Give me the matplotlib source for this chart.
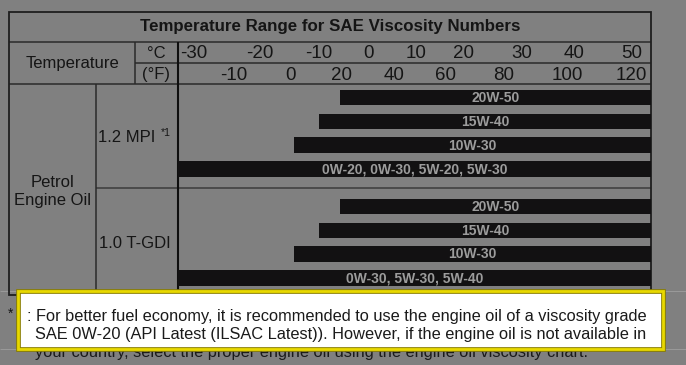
import matplotlib
matplotlib.use("Agg")
import matplotlib.pyplot as plt
from matplotlib.patches import Rectangle

plt.rcParams['font.family'] = ['Liberation Sans', 'DejaVu Sans']

# ---------------- data ----------------
title = "Temperature Range for SAE Viscosity Numbers"
celsius_labels = ["-30", "-20", "-10", "0", "10", "20", "30", "40", "50"]
fahrenheit_labels = ["-10", "0", "20", "40", "60", "80", "100", "120"]
engine_group = "Petrol\nEngine Oil"
engines = ["1.2 MPI", "1.0 T-GDI"]
grades_mpi = ["20W-50", "15W-40", "10W-30", "0W-20, 0W-30, 5W-20, 5W-30"]
grades_tgdi = ["20W-50", "15W-40", "10W-30", "0W-30, 5W-30, 5W-40"]
# lower temperature limit of each grade (deg C); None = below chart range
start_mpi = [-3.3, -7.2, -11.7, None]
start_tgdi = [-3.3, -7.2, -11.7, None]
footnote_lines = [
    ": For better fuel economy, it is recommended to use the engine oil of a viscosity grade",
    "SAE 0W-20 (API Latest (ILSAC Latest)). However, if the engine oil is not available in",
]
footnote_tail = "your country, select the proper engine oil using the engine oil viscosity chart."

# ---------------- layout ----------------
W, H = 686, 365
BG = "#808080"
LINE = "#2a2a2a"
TXT = "#151515"
XMIN, XMAX = -32.92, 53.47          # deg C at the bar area's left / right edge
celsius_px = [194, 260, 319, 368, 416, 464, 522, 574, 632]
fahr_px = [234, 291, 341, 394, 446, 504, 567, 631]
rows_mpi_y = [97.5, 121.5, 145, 169]
rows_tgdi_y = [206.5, 230.5, 254, 278]
BAR_H = 15.5

fig = plt.figure(figsize=(W / 100, H / 100), dpi=100, facecolor=BG)
ax = fig.add_axes([0, 0, 1, 1])
ax.set_xlim(0, W)
ax.set_ylim(H, 0)
ax.axis("off")
ax.set_facecolor(BG)

def hline(y, x0, x1, c=LINE, lw=1.1, z=3):
    ax.plot([x0, x1], [y, y], color=c, lw=lw, zorder=z, solid_capstyle="butt")

def vline(x, y0, y1, c=LINE, lw=1.1, z=3):
    ax.plot([x, x], [y0, y1], color=c, lw=lw, zorder=z, solid_capstyle="butt")

# faint page lines
hline(291, 0, W, c="#9a9a9a", lw=0.7, z=1)
hline(349, 0, W, c="#9a9a9a", lw=0.7, z=1)

# table grid
L, R, T, B = 9, 651, 12, 295
ax.add_patch(Rectangle((L, T), R - L, B - T, fill=False, ec="#1e1e1e", lw=1.3, zorder=4))
hline(42, L, R)
hline(63, 135, R)
hline(84, L, R)
hline(188, 96, R, c="#4a4a4a", lw=1.4)
vline(135, 42, 84)
vline(96, 84, B)
vline(178, 42, B, c="#0e0e0e", lw=1.5, z=5)

# header texts
ax.text((L + R) / 2, 27, title, ha="center", va="center", fontsize=12.2,
        fontweight="bold", color=TXT, zorder=6)
ax.text(72, 63.5, "Temperature", ha="center", va="center", fontsize=12, color=TXT, zorder=6)
ax.text(156, 53, "°C", ha="center", va="center", fontsize=12, color=TXT, zorder=6)
ax.text(156, 74, "(°F)", ha="center", va="center", fontsize=12, color=TXT, zorder=6)
for lab, x in zip(celsius_labels, celsius_px):
    ax.text(x, 54, lab, ha="center", va="center", fontsize=13.5, color=TXT, zorder=6)
for lab, x in zip(fahrenheit_labels, fahr_px):
    ax.text(x, 75, lab, ha="center", va="center", fontsize=13.5, color=TXT, zorder=6)

# row labels
ax.text(52.5, 191.5, engine_group, ha="center", va="center", fontsize=12,
        color=TXT, linespacing=1.3, zorder=6)
ax.text(127, 137, engines[0], ha="center", va="center", fontsize=12, color=TXT, zorder=6)
ax.text(166, 133, "*1", ha="center", va="center", fontsize=7.5, color=TXT, zorder=6)
ax.text(134.5, 243, engines[1], ha="center", va="center", fontsize=12, color=TXT, zorder=6)

# bar area
ax2 = fig.add_axes([178 / W, (H - B) / H, (R - 178) / W, (B - 84) / H])
ax2.set_xlim(XMIN, XMAX)
ax2.set_ylim(B, 84)
ax2.axis("off")
ax2.patch.set_alpha(0)

for grades, starts, ys in ((grades_mpi, start_mpi, rows_mpi_y),
                           (grades_tgdi, start_tgdi, rows_tgdi_y)):
    for g, s, y in zip(grades, starts, ys):
        s0 = XMIN if s is None else s
        ax2.barh(y, XMAX - s0, left=s0, height=BAR_H, color="#121112", zorder=3)
        ax2.text((s0 + XMAX) / 2, y + 0.5, g, ha="center", va="center",
                 fontsize=10, fontweight="bold", color="#9c9c9c", zorder=4)

# footnote marker and text under the popup
ax.text(11, 314, "*", ha="center", va="center", fontsize=10, color=TXT, zorder=6)
ax.text(35, 353, footnote_tail, ha="left", va="center", fontsize=11.8, color="#1a1a1a", zorder=6)

# highlighted popup box
ax.add_patch(Rectangle((18, 291), 645, 58, fc="white", ec="#8a7e00", lw=3.4, zorder=8))
ax.add_patch(Rectangle((18, 291), 645, 58, fill=False, ec="#e8d800", lw=2.0, zorder=9))
ax.text(27, 316, footnote_lines[0], ha="left", va="center", fontsize=11.8, color="#1a1a1a", zorder=10)
ax.text(35, 334, footnote_lines[1], ha="left", va="center", fontsize=11.8, color="#1a1a1a", zorder=10)

fig.savefig("out.png", dpi=100, facecolor=BG)
